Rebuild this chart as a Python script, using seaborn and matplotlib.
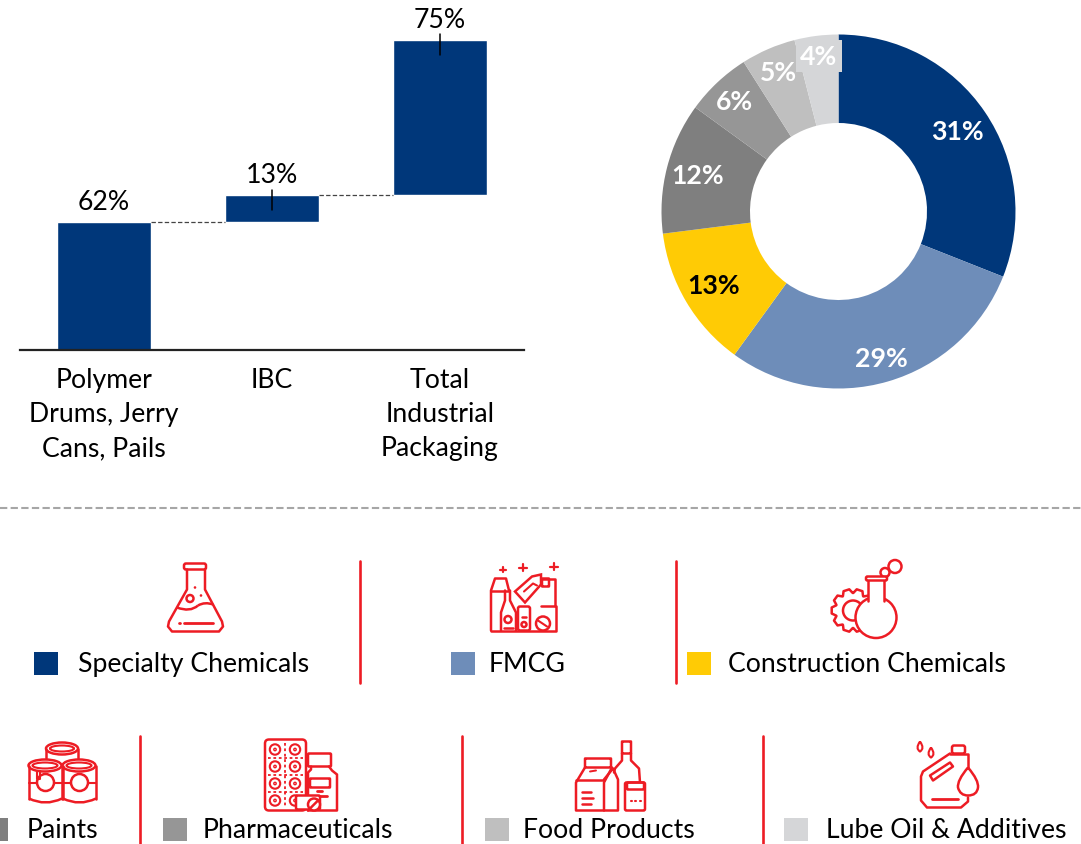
import numpy as np
import pandas as pd
import matplotlib
matplotlib.use('Agg')
import matplotlib.pyplot as plt
from matplotlib.patches import Circle, Rectangle, Ellipse, FancyBboxPatch, PathPatch, Polygon
from matplotlib.path import Path
import seaborn as sns

stages = ['Polymer\nDrums, Jerry\nCans, Pails', 'IBC', 'Total\nIndustrial\nPackaging']
stageValues = [62, 13, 75]
stageBottoms = [0, 62, 75]

segments = ['Specialty Chemicals', 'FMCG', 'Construction Chemicals', 'Paints',
            'Pharmaceuticals', 'Food Products', 'Lube Oil & Additives']
segmentValues = [31, 29, 13, 12, 6, 5, 4]
segmentColors = ['#00377A', '#6E8DB9', '#FFCB05', '#7F7F7F', '#969696', '#BFBFBF', '#D5D6D8']

NAVY = '#00377A'
RED = '#ED1C24'
W, H = 1081, 845
FS = 19.2
LW = 1.8

sns.set_theme(style='white')
plt.rcParams['font.family'] = ['Lato', 'DejaVu Sans']

def pxAxes(fig, x0, y0, x1, y1):
    return fig.add_axes([x0/W, 1-y1/H, (x1-x0)/W, (y1-y0)/H])

fig = plt.figure(figsize=(W/100, H/100), dpi=100)

# overlay in pixel coordinates for legend, separators, icons
ov = fig.add_axes([0, 0, 1, 1])
ov.set_xlim(0, W)
ov.set_ylim(H-1.5, -1.5)
ov.axis('off')

# waterfall
ax = pxAxes(fig, 20, 40.5, 524, 351)
df = pd.DataFrame({'stage': stages, 'value': stageValues})
sns.barplot(data=df, x='stage', y='value', color=NAVY, saturation=1, width=0.565,
            errorbar=None, bottom=stageBottoms, ax=ax)
ax.set_xlim(-0.5, 2.5)
ax.set_ylim(0, 150)
ax.set_xlabel('')
ax.set_ylabel('')
ax.set_yticks([])
ax.patch.set_alpha(0)
for s in ['left', 'right', 'top']:
    ax.spines[s].set_visible(False)
ax.spines['bottom'].set_color('#222222')
ax.spines['bottom'].set_linewidth(1.6)
ax.tick_params(axis='x', length=0, pad=12)
for t in ax.get_xticklabels():
    t.set_fontsize(FS)
    t.set_color('black')
    t.set_linespacing(1.47)
    t.set_verticalalignment('top')

for i, (v, b) in enumerate(zip(stageValues, stageBottoms)):
    top = v + b
    ax.annotate('{:d}%'.format(v), (i, top), xytext=(0, 5.5), textcoords='offset points',
                ha='center', va='bottom', fontsize=FS, color='black', annotation_clip=False)
    if i > 0:
        # leader tick through the top edge of the bar
        ax.plot([i, i], [top-7.5, top+2.5], color='black', lw=1.1, clip_on=False, zorder=5)
    if i < 2:
        ax.plot([i+0.28, i+0.72], [top, top], color='#444444', lw=0.9, ls=(0, (3.5, 1.8)), clip_on=False)

# donut
pa = pxAxes(fig, 661.5, 35.5, 1015.5, 389.5)
wedges, _ = pa.pie(segmentValues, colors=segmentColors, startangle=90, counterclock=False, radius=1,
                   wedgeprops=dict(width=0.5, linewidth=0))
pa.set_xlim(-1, 1)
pa.set_ylim(-1, 1)
labelRadius = [0.81, 0.86, 0.82, 0.82, 0.86, 0.86, 0.885]
labelColors = ['white', 'white', 'black', 'white', 'white', 'white', 'white']
for w, v, r, c in zip(wedges, segmentValues, labelRadius, labelColors):
    ang = np.deg2rad((w.theta1 + w.theta2)/2)
    box = dict(facecolor='#D5D6D8', edgecolor='none', pad=3.0) if v == 4 else None
    pa.text(r*np.cos(ang), r*np.sin(ang), '{:d}%'.format(v), ha='center', va='center',
            fontsize=FS, fontweight='bold', color=c, bbox=box)

# dashed divider
ov.plot([0, W], [507, 507], color='#A6A6A6', lw=1.5, ls=(0, (3.5, 1.6)))

# separators
for x in [360, 676]:
    ov.plot([x, x], [560, 682], color=RED, lw=1.9)
for x in [140, 462, 763]:
    ov.plot([x, x], [735, 847], color=RED, lw=1.9)

# legend entries
swatchX = [34, 451, 687, -16, 163, 485, 784]
textX = [78, 489, 728, 27, 203, 523, 826]
for i, (name, col) in enumerate(zip(segments, segmentColors)):
    yTop, yMid = (651, 663) if i < 3 else (817, 829)
    ov.add_patch(Rectangle((swatchX[i], yTop), 24, 23, facecolor=col, edgecolor='none'))
    ov.text(textX[i], yMid, name, ha='left', va='center', fontsize=FS, color='black')

# icon helpers
def line(pts, lw=LW):
    xs, ys = zip(*pts)
    ov.plot(xs, ys, color=RED, lw=lw, solid_capstyle='round', solid_joinstyle='round', zorder=3)

def ring(x, y, r, lw=LW, fill='none', z=3):
    ov.add_patch(Circle((x, y), r, facecolor=fill, edgecolor=RED, lw=lw, zorder=z))

def box(x0, y0, x1, y1, rad=1.5, lw=LW, fill='none', z=3):
    ov.add_patch(FancyBboxPatch((x0, y0), x1-x0, y1-y0, boxstyle='round,pad=0,rounding_size=%g' % rad,
                                facecolor=fill, edgecolor=RED, lw=lw, zorder=z))

def curve(p0, c, p1, lw=LW):
    ov.add_patch(PathPatch(Path([p0, c, p1], [Path.MOVETO, Path.CURVE3, Path.CURVE3]),
                           facecolor='none', edgecolor=RED, lw=lw, zorder=3))

def oval(x, y, w, h, lw=LW, fill='none', z=3):
    ov.add_patch(Ellipse((x, y), w, h, facecolor=fill, edgecolor=RED, lw=lw, zorder=z))

def plus(x, y, s=3.5):
    line([(x-s, y), (x+s, y)], 1.6)
    line([(x, y-s), (x, y+s)], 1.6)

def flaskIcon():
    box(184, 563, 206, 569, 2)
    line([(187, 569), (187, 589), (169, 621), (168, 626), (172, 631), (219, 631), (223, 626), (222, 621), (205, 589), (205, 569)])
    curve((177, 607), (190, 612), (198, 605))
    curve((198, 605), (205, 601), (213, 604))
    ring(190, 598, 3.5)
    ring(195, 587, 0.6, 1)
    ring(201, 595, 0.6, 1)
    line([(184, 622), (213, 622)], 2)
    line([(179, 622), (180, 622)], 2)

def fmcgIcon():
    line([(491, 630), (491, 590), (495, 578), (506, 578), (509, 590)])
    line([(491, 590), (509, 590)])
    line([(491, 630), (556, 630), (556, 605), (541, 605)])
    # bottles
    line([(505, 590), (505, 600), (501, 612), (501, 630)])
    line([(510, 590), (510, 600), (516, 612), (516, 630)])
    ring(508, 619, 3.5)
    line([(504, 627), (513, 627)])
    box(518, 606, 530, 630, 2)
    ring(524, 624, 2.5)
    line([(522, 616), (526, 616)])
    # tag
    ov.add_patch(Polygon([(515, 591), (532, 576), (541, 574), (541, 584), (525, 602)], closed=True,
                         facecolor='white', edgecolor=RED, lw=LW, zorder=3))
    line([(524, 591), (533, 583), (537, 585)], 1.5)
    # box on the right
    line([(541, 578), (555, 578), (555, 605)])
    box(542, 578, 549, 586, 0.5)
    ring(543, 623, 7, fill='white')
    line([(538, 620), (547, 626)], 1.5)
    plus(503, 569, 2.8)
    plus(523, 567, 3.8)
    plus(554, 566, 3.8)

def gearFlaskIcon():
    teeth = []
    for k in range(10):
        for off, r in [(-0.30, 17.5), (-0.14, 21.5), (0.14, 21.5), (0.30, 17.5)]:
            a = 2*np.pi*k/10 + off
            teeth.append((853+r*np.cos(a), 610+r*np.sin(a)))
    ov.add_patch(Polygon(teeth, closed=True, facecolor='none', edgecolor=RED, lw=LW, zorder=3, joinstyle='round'))
    ring(853, 610, 10)
    ring(876, 617, 20.5, fill='white', z=4)
    ov.add_patch(Rectangle((868, 578), 16, 24, facecolor='white', edgecolor='none', zorder=4))
    for x in [868, 884]:
        ov.plot([x, x], [578, 600], color=RED, lw=LW, zorder=5)
    box(866, 576, 887, 580, 1.5, z=5, fill='white')
    curve((857, 618), (866, 612), (875, 617))
    curve((875, 617), (885, 622), (896, 613))
    ring(885, 572, 4.5, fill='white')
    ring(895, 566, 6.5, fill='white')

def paintIcon():
    for x, y, w in [(62, 748, 32), (45, 765, 33), (79, 765, 33)]:
        bottom = y+9 if y == 748 else 798
        if y != 748:
            ov.add_patch(Rectangle((x-w/2, y), w, bottom-y, facecolor='white', edgecolor='none', zorder=3))
        oval(x, y, w, 12, fill='white')
        oval(x, y, w-8, 6, lw=1.5)
        line([(x-w/2, y), (x-w/2, bottom)])
        line([(x+w/2, y), (x+w/2, bottom)])
    for x in [45.5, 79.5]:
        ring(x, 782, 8.5)
        curve((x-16.5, 798), (x, 806), (x+16.5, 798))
        line([(x-16.5, 782), (x-8.5, 782)], 1.5)
        line([(x+8.5, 782), (x+16.5, 782)], 1.5)
    line([(37, 771), (37, 778), (40, 778), (40, 771)], 1.5)

def pharmaIcon():
    box(265, 739, 306, 810, 4)
    for x in [275, 295]:
        for y in [749, 766, 783, 800]:
            ring(x, y, 5.2, 1.5)
            ring(x, y, 1.2, 1)
    for y in [757.5, 774.5, 791.5]:
        line([(268, y), (303, y)], 1.3)
        ov.lines[-1].set_linestyle((0, (1.5, 1.5)))
    line([(285, 742), (285, 807)], 1.3)
    ov.lines[-1].set_linestyle((0, (1.5, 1.5)))
    box(308, 753, 331, 766, 1)
    line([(311, 766), (311, 769), (308, 772), (308, 810)])
    line([(329, 766), (332, 770), (337, 774), (337, 810), (308, 810)])
    box(310, 778, 330, 787, 0.5)
    line([(317, 790), (322, 790)], 2)
    line([(319, 795), (327, 795)], 2)
    box(296, 795, 320, 809, 1.5, fill='white', z=4)
    ring(314, 804, 6, fill='white', z=5)
    ov.plot([310, 318], [808, 800], color=RED, lw=LW, zorder=6)

def foodIcon():
    box(585, 758, 611, 767, 0.3)
    line([(585, 767), (576, 782), (576, 810), (604, 810), (604, 782), (612, 767)])
    line([(576, 779), (604, 779)])
    line([(604, 779), (613, 768), (618, 779), (618, 810), (604, 810)])
    for y, x1 in [(791, 591), (797, 593), (803, 591)]:
        line([(582, y), (x1, y)], 1.8)
    line([(590, 771), (596, 770)], 1.4)
    box(622, 741, 631, 753, 0.3)
    line([(622, 753), (622, 760), (615, 768), (614, 772)])
    line([(631, 753), (631, 760), (639, 768), (640, 782)])
    box(625, 782, 645, 810, 1.5, fill='white')
    box(627, 782, 644, 789, 1)
    for x in [631, 635, 640]:
        line([(x, 800), (x+0.5, 800)], 1.5)

def lubeIcon():
    box(952, 745, 965, 753, 2)
    line([(950, 753), (968, 753), (968, 768)])
    line([(950, 753), (923, 771), (921, 776), (921, 800), (927, 807), (961, 807), (968, 801), (968, 797)])
    ov.add_patch(Polygon([(930, 775), (950, 762), (953, 766), (933, 780)], closed=True,
                         facecolor='none', edgecolor=RED, lw=LW, zorder=3, joinstyle='round'))
    line([(932, 798), (958, 798)], 2)
    ov.add_patch(PathPatch(Path([(968, 767), (957, 780), (958, 787), (960, 795), (968, 795), (977, 795), (978, 787), (979, 780), (968, 767)],
                                [Path.MOVETO, Path.CURVE3, Path.CURVE3, Path.CURVE3, Path.CURVE3, Path.CURVE3, Path.CURVE3, Path.CURVE3, Path.CURVE3]),
                           facecolor='white', edgecolor=RED, lw=LW, zorder=4))
    for x, y in [(920, 747), (931, 753)]:
        ov.add_patch(PathPatch(Path([(x, y-6), (x-5, y+1), (x, y+4), (x+5, y+1), (x, y-6)],
                                    [Path.MOVETO, Path.CURVE3, Path.CURVE3, Path.CURVE3, Path.CURVE3]),
                               facecolor='none', edgecolor=RED, lw=1.5, zorder=3))

flaskIcon()
fmcgIcon()
gearFlaskIcon()
paintIcon()
pharmaIcon()
foodIcon()
lubeIcon()

plt.savefig('out.png', dpi=100)
